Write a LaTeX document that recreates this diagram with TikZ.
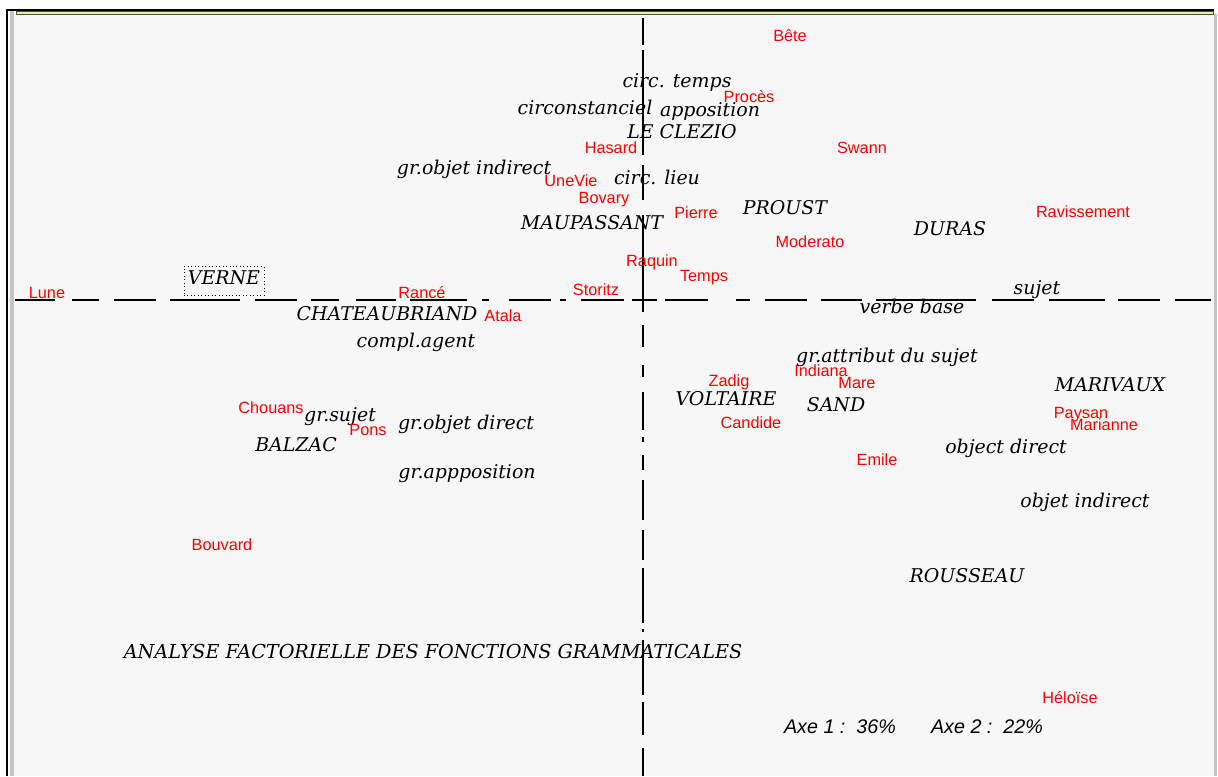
\documentclass[tikz,border=0pt]{standalone}
\usepackage{fontspec}
\newfontfamily\labfont{DejaVu Serif}
\newfontfamily\workfont{Liberation Sans}
\definecolor{panel}{RGB}{247,247,247}
\definecolor{edge}{RGB}{196,196,196}
\definecolor{khaki}{RGB}{232,232,176}
\definecolor{rim}{RGB}{80,80,60}
\definecolor{workred}{RGB}{255,0,0}

\begin{document}
\begin{tikzpicture}[x=0.75pt,y=-0.75pt,
  lab/.style={inner sep=0pt, yshift=-2.5pt, font=\labfont\itshape\fontsize{14.2pt}{16pt}\selectfont,
              text height=0.72em, text depth=0.2em},
  work/.style={inner sep=0pt, yshift=-1.5pt, text=workred, font=\workfont\fontsize{12.2pt}{14pt}\selectfont,
               text height=0.72em, text depth=0.2em},
  axe/.style={inner sep=0pt, font=\workfont\itshape\fontsize{14.8pt}{17pt}\selectfont},
  axisline/.style={line width=1.2pt, black},
]
\useasboundingbox (0,0) rectangle (1218,776);

% window frame and plotting panel
\fill[white] (0,0) rectangle (1218,776);
\fill[panel] (14,14) rectangle (1214,776);
\fill[edge] (10,11) rectangle (14,776);
\fill[edge] (1214,14) rectangle (1217,776);
\draw[line width=0.9pt] (7,776) -- (7,10) -- (1214,10);
\draw[fill=khaki, draw=rim, line width=0.6pt] (16,11.5) rectangle (1213,14);

% factor axes (broken dash lines)
\foreach \a/\b in {15/55,72/99,114/156,170/240,255/297,311/339,356/396,410/467,
                   482/489,509/551,560/566,581/624,632/657,665/708,736/750,765/807,
                   821/862,876/976,992/1034,1049/1105,1118/1160,1175/1211}
  \draw[axisline] (\a,300) -- (\b,300);
\foreach \a/\b in {18/45,50/155,165/200,215/312,325/347,365/377,392/430,437/442,
                   455/470,480/520,530/560,568/623,629/632,640/695,702/735,748/776}
  \draw[axisline] (643,\a) -- (643,\b);

% grammatical functions and authors
\node[lab] (ctemps) at (677,81) {circ. temps};
\node[lab] (circ) at (585,108) {circonstanciel};
\node[lab] (appo) at (710,110) {apposition};
\node[lab] (clezio) at (682,132) {LE CLEZIO};
\node[lab] (goi) at (474,168) {gr.objet indirect};
\node[lab] (clieu) at (657,178) {circ. lieu};
\node[lab] (maup) at (592,223) {MAUPASSANT};
\node[lab] (proust) at (785,208) {PROUST};
\node[lab] (duras) at (950,229) {DURAS};
\node[lab, yshift=2.5pt, draw, dotted, line width=0.6pt, inner xsep=3pt, inner ysep=6pt] (verne) at (224,281) {VERNE};
\node[lab] (sujet) at (1037,288) {sujet};
\node[lab] (vbase) at (912,307) {verbe base};
\node[lab] (chat) at (387,314) {CHATEAUBRIAND};
\node[lab] (cagent) at (416,341) {compl.agent};
\node[lab] (gattr) at (887,356) {gr.attribut du sujet};
\node[lab] (mariv) at (1110,385) {MARIVAUX};
\node[lab] (volt) at (726,399) {VOLTAIRE};
\node[lab] (sand) at (836,405) {SAND};
\node[lab] (gsujet) at (340,415) {gr.sujet};
\node[lab] (god) at (466,423) {gr.objet direct};
\node[lab] (balzac) at (296,445) {BALZAC};
\node[lab] (odir) at (1006,447) {object direct};
\node[lab] (gapp) at (467,472) {gr.appposition};
\node[lab] (oind) at (1085,501) {objet indirect};
\node[lab] (rouss) at (967,576) {ROUSSEAU};
\node[lab, font=\labfont\itshape\fontsize{14.4pt}{16pt}\selectfont] (title) at (433,652)
  {ANALYSE FACTORIELLE DES FONCTIONS GRAMMATICALES};

% works
\node[work] (bete) at (790,36) {Bête};
\node[work] (proces) at (749,97) {Procès};
\node[work] (hasard) at (611,148) {Hasard};
\node[work] (swann) at (862,148) {Swann};
\node[work] (unevie) at (571,181) {UneVie};
\node[work] (bovary) at (604,198) {Bovary};
\node[work] (pierre) at (696,213) {Pierre};
\node[work] (ravis) at (1083,212) {Ravissement};
\node[work] (moder) at (810,242) {Moderato};
\node[work] (raquin) at (652,261) {Raquin};
\node[work] (temps) at (704,276) {Temps};
\node[work] (lune) at (47,293) {Lune};
\node[work] (rance) at (422,293) {Rancé};
\node[work] (storitz) at (596,290) {Storitz};
\node[work] (atala) at (503,316) {Atala};
\node[work] (indiana) at (821,371) {Indiana};
\node[work] (zadig) at (729,381) {Zadig};
\node[work] (mare) at (857,383) {Mare};
\node[work] (chouans) at (271,408) {Chouans};
\node[work] (paysan) at (1081,413) {Paysan};
\node[work] (candide) at (751,423) {Candide};
\node[work] (marianne) at (1104,425) {Marianne};
\node[work] (pons) at (368,430) {Pons};
\node[work] (emile) at (877,460) {Emile};
\node[work] (bouvard) at (222,545) {Bouvard};
\node[work] (heloise) at (1070,698) {Héloïse};

% explained inertia
\node[axe] (axe1) at (840,727) {Axe 1 :\ \ 36\%};
\node[axe] (axe2) at (987,727) {Axe 2 :\ \ 22\%};
\end{tikzpicture}
\end{document}
